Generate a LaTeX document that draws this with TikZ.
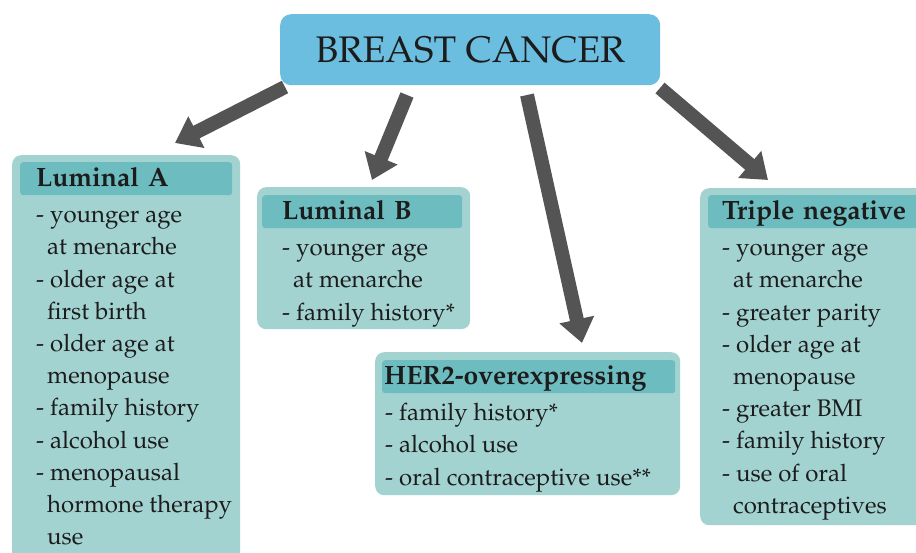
\documentclass[tikz,border=0pt]{standalone}
\usepackage[T1]{fontenc}
\renewcommand{\rmdefault}{ppl}
\usepackage{tikz}
\usetikzlibrary{arrows.meta, positioning, calc}
\definecolor{titleblue}{HTML}{6CBEE0}
\definecolor{boxteal}{HTML}{A2D3D1}
\definecolor{barteal}{HTML}{6CBCC0}
\definecolor{arrowgray}{HTML}{545454}
\definecolor{inkdark}{HTML}{1C1C1C}
\tikzset{
    titlebox/.style={fill=titleblue, rounded corners=11pt, anchor=north west,
        text=inkdark, font=\fontsize{37}{40}\selectfont},
    subtype/.style={fill=boxteal, rounded corners=9pt, anchor=north west, inner sep=0pt},
    subhead/.style args={#1 #2}{fill=barteal, rounded corners=3pt, anchor=north west,
        text width=#1, inner xsep=#2, inner ysep=2pt, text height=22pt, text depth=7pt,
        align=left, text=inkdark, font=\fontsize{26.5}{30}\selectfont\bfseries},
    risklist/.style={anchor=north west, inner sep=0pt, align=left, text=inkdark,
        font=\fontsize{24}{32.2}\selectfont},
    bigarrow/.style={draw=arrowgray, line width=14pt, -{Triangle[length=24pt,width=34pt]}}
}
\newcommand{\ind}{\hspace*{11pt}}

\begin{document}
\begin{tikzpicture}[x=1pt, y=1pt]
    \useasboundingbox (0,0) rectangle (916,-552);
    \clip (0,0) rectangle (916,-552);
    % top node
    \node[titlebox, minimum width=380pt, minimum height=71pt] (title) at (280,-14) {BREAST CANCER};
    % subtype boxes
    \node[subtype, minimum width=228pt, minimum height=410pt] (la) at (12,-155) {};
    \node[subhead={180pt 16pt}] (laH) at ([xshift=8pt,yshift=-7pt]la.north west) {Luminal A};
    \node[risklist] (laT) at ([xshift=16pt,yshift=-4.5pt]laH.south west)
        {\strut- younger age\\ \ind at menarche\\ - older age at\\ \ind first birth\\
         - older age at\\ \ind menopause\\ - family history\\ - alcohol use\\
         - menopausal\\ \ind hormone therapy\\ \ind use};
    \node[subtype, minimum width=213pt, minimum height=142pt] (lb) at (257,-187) {};
    \node[subhead={160pt 20pt}] (lbH) at ([xshift=5pt,yshift=-8pt]lb.north west) {Luminal B};
    \node[risklist] (lbT) at ([xshift=20pt,yshift=-4.5pt]lbH.south west)
        {\strut- younger age\\ \ind at menarche\\ - family history*};
    \node[subtype, minimum width=305pt, minimum height=143pt] (her) at (375,-352) {};
    \node[subhead={289pt 2pt}] (herH) at ([xshift=7pt,yshift=-8pt]her.north west) {HER2-overexpressing};
    \node[risklist] (herT) at ([xshift=3pt,yshift=-4.5pt]herH.south west)
        {\strut- family history*\\ - alcohol use\\ - oral contraceptive use**};
    \node[subtype, minimum width=240pt, minimum height=337pt] (tn) at (700,-188) {};
    \node[subhead={212pt 14pt}] (tnH) at ([xshift=8pt,yshift=-7pt]tn.north west) {Triple negative};
    \node[risklist] (tnT) at ([xshift=14pt,yshift=-4.5pt]tnH.south west)
        {\strut- younger age\\ \ind at menarche\\ - greater parity\\ - older age at\\
         \ind menopause\\ - greater BMI\\ - family history\\ - use of oral\\ \ind contraceptives};
    % arrows
    \coordinate (s1) at (285,-87);
    \coordinate (e1) at (175,-143);
    \coordinate (s2) at (407,-95);
    \coordinate (e2) at (372,-180);
    \coordinate (s3) at (527,-95);
    \coordinate (e3) at (582,-343);
    \coordinate (s4) at (660,-88);
    \coordinate (e4) at (768,-180);
    \draw[bigarrow] (s1) -- (e1);
    \draw[bigarrow] (s2) -- (e2);
    \draw[bigarrow] (s3) -- (e3);
    \draw[bigarrow] (s4) -- (e4);
\end{tikzpicture}
\end{document}
